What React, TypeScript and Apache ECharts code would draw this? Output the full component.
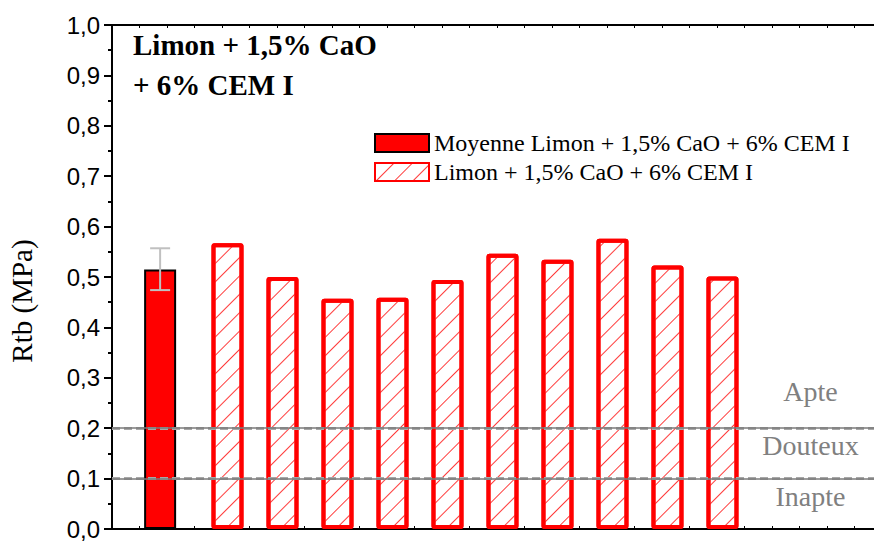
import React, { useEffect, useRef } from "react";
import * as echarts from "echarts";

const yTicks = [0, 0.1, 0.2, 0.3, 0.4, 0.5, 0.6, 0.7, 0.8, 0.9, 1.0];
const meanLabel = "Moyenne Limon + 1,5% CaO + 6% CEM I";
const sampleLabel = "Limon + 1,5% CaO + 6% CEM I";
const meanPosition = [1.75];
const meanValue = [0.515];
const meanErrLow = [0.474];
const meanErrHigh = [0.557];
const samplePositions = [4.2, 6.2, 8.2, 10.2, 12.2, 14.2, 16.2, 18.2, 20.2, 22.2];
const sampleValues = [0.567, 0.5, 0.457, 0.459, 0.494, 0.546, 0.534, 0.576, 0.523, 0.501];
const thresholds = [0.2, 0.1];
const zoneLabels = ["Apte", "Douteux", "Inapte"];
const zoneLabelValues = [0.273, 0.166, 0.064];
const zoneLabelPosition = 25.4;

const SERIF = "'Liberation Serif', 'Times New Roman', serif";
const SANS = "'Liberation Sans', Arial, sans-serif";

export default function App() {
  const ref = useRef<HTMLDivElement>(null);
  useEffect(() => {
    if (!ref.current) return;
    const chart = echarts.init(ref.current, undefined, { renderer: "svg" });
    const xMin = 0;
    const xMax = 27.71;
    const baseX = {
      type: "value",
      min: xMin,
      max: xMax,
      interval: 1,
      axisLabel: { show: false },
      splitLine: { show: false },
      axisLine: { show: true, onZero: false, lineStyle: { color: "#000", width: 2 } },
      axisTick: { show: true, inside: true, length: 3, lineStyle: { color: "#000", width: 1 } },
    };
    const hatchDecal = {
      symbol: "rect",
      symbolSize: 1,
      dashArrayX: [1, 0],
      dashArrayY: [1, 12],
      rotation: -Math.PI / 4,
      color: "#ff3b3b",
      backgroundColor: "#ffffff",
    };
    const option: any = {
      animation: false,
      grid: { left: 112, right: 0, top: 25, bottom: 10, containLabel: false },
      xAxis: [
        { ...baseX, position: "bottom" },
        { ...baseX, position: "top" },
      ],
      yAxis: {
        type: "value",
        min: 0,
        max: 1,
        interval: 0.1,
        axisLine: { show: true, lineStyle: { color: "#000", width: 2 } },
        axisTick: { show: true, inside: false, length: 8, lineStyle: { color: "#000", width: 2 } },
        minorTick: { show: true, splitNumber: 2, length: 4, lineStyle: { color: "#000", width: 2 } },
        splitLine: { show: false },
        axisLabel: {
          margin: 12,
          color: "#000",
          fontFamily: SANS,
          fontSize: 24,
          formatter: (v: number) => {
            const t = yTicks.find((k) => Math.abs(k - v) < 1e-6);
            return t === undefined ? "" : t.toFixed(1).replace(".", ",");
          },
        },
      },
      legend: {
        orient: "vertical",
        left: 374,
        top: 131,
        padding: 0,
        itemWidth: 54,
        itemHeight: 18,
        itemGap: 5,
        icon: "rect",
        textStyle: { fontFamily: SERIF, fontSize: 24, color: "#000", lineHeight: 24 },
        data: [meanLabel, sampleLabel],
      },
      series: [
        {
          name: meanLabel,
          type: "bar",
          barWidth: 32,
          barGap: "-100%",
          z: 2,
          itemStyle: { color: "#ff0000", borderColor: "#000", borderWidth: 2 },
          data: meanPosition.map((x, i) => [x, meanValue[i]]),
        },
        {
          name: sampleLabel,
          type: "bar",
          barWidth: 32,
          barGap: "-100%",
          z: 2,
          itemStyle: {
            color: "#ffffff",
            borderColor: "#ff0000",
            borderWidth: 4,
            borderRadius: 1,
            decal: hatchDecal,
          },
          data: samplePositions.map((x, i) => [x, sampleValues[i]]),
        },
        {
          type: "custom",
          z: 5,
          silent: true,
          data: meanPosition.map((x, i) => [x, meanErrLow[i], meanErrHigh[i]]),
          renderItem: (params: any, api: any) => {
            const x = api.value(0);
            const lo = api.coord([x, api.value(1)]);
            const hi = api.coord([x, api.value(2)]);
            const cap = 10;
            const style = { stroke: "#c0c0c0", lineWidth: 2 };
            return {
              type: "group",
              children: [
                { type: "line", shape: { x1: lo[0], y1: lo[1], x2: hi[0], y2: hi[1] }, style },
                { type: "line", shape: { x1: hi[0] - cap, y1: hi[1], x2: hi[0] + cap, y2: hi[1] }, style },
                { type: "line", shape: { x1: lo[0] - cap, y1: lo[1], x2: lo[0] + cap, y2: lo[1] }, style },
              ],
            };
          },
        },
        {
          type: "line",
          data: [],
          z: 6,
          silent: true,
          markLine: {
            silent: true,
            symbol: "none",
            label: { show: false },
            animation: false,
            data: [
              ...thresholds.map((t) => ({ yAxis: t, lineStyle: { color: "#a8a8a8", width: 3, type: [8, 4] } })),
              ...thresholds.map((t) => ({ yAxis: t, lineStyle: { color: "#7a7a7a", width: 1.5, type: "solid" } })),
            ],
          },
        },
        {
          type: "custom",
          z: 7,
          silent: true,
          data: zoneLabelValues.map((v, i) => [zoneLabelPosition, v, i]),
          renderItem: (params: any, api: any) => {
            const p = api.coord([api.value(0), api.value(1)]);
            return {
              type: "text",
              x: p[0],
              y: p[1],
              style: {
                text: zoneLabels[api.value(2)],
                fill: "#808080",
                font: `28px ${SERIF}`,
                align: "center",
                verticalAlign: "middle",
              },
            };
          },
        },
      ],
      graphic: [
        {
          type: "text",
          left: 133,
          top: 25,
          style: {
            text: "Limon + 1,5% CaO\n+ 6% CEM I",
            fill: "#000",
            font: `bold 29px ${SERIF}`,
            lineHeight: 40,
          },
        },
        {
          type: "text",
          x: 22,
          y: 301,
          rotation: Math.PI / 2,
          style: {
            text: "Rtb (MPa)",
            fill: "#000",
            font: `29px ${SERIF}`,
            align: "center",
            verticalAlign: "middle",
          },
        },
      ],
    };
    chart.setOption(option);
    return () => chart.dispose();
  }, []);
  return <div ref={ref} style={{ width: 874, height: 541, position: "absolute", left: 0, top: 0 }} />;
}
